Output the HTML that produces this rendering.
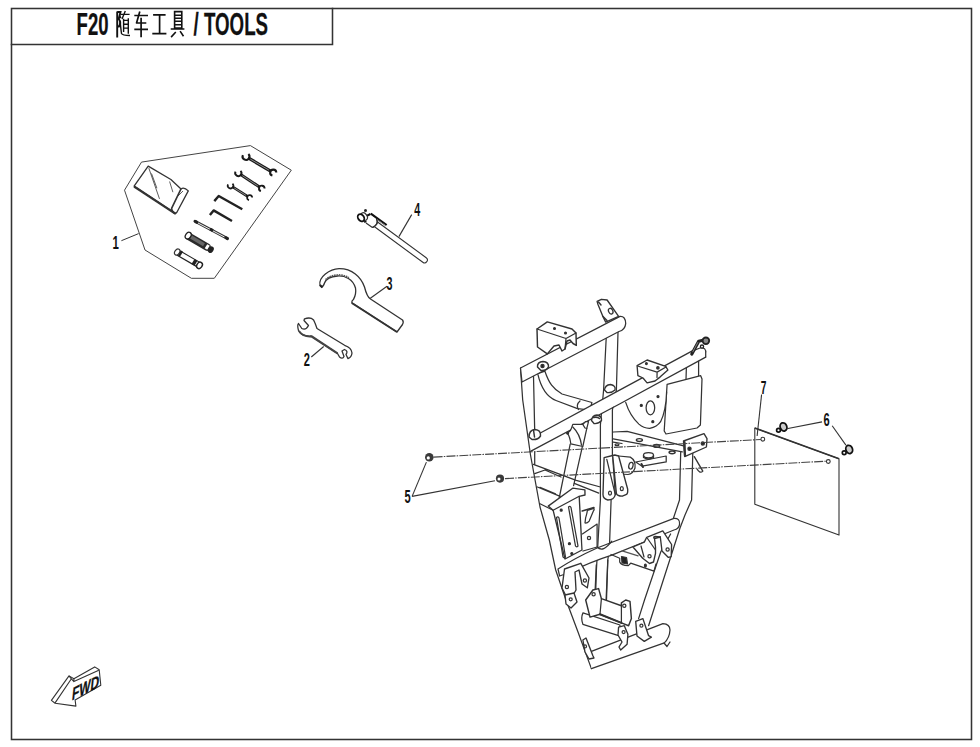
<!DOCTYPE html>
<html><head><meta charset="utf-8"><style>
html,body{margin:0;padding:0;background:#fff;width:980px;height:747px;overflow:hidden}
svg{position:absolute;left:0;top:0}
text{font-family:"Liberation Sans",sans-serif}
</style></head><body>
<svg width="980" height="747" viewBox="0 0 980 747">
<g fill="none" stroke="#333" stroke-linecap="square">
<rect x="11.5" y="8.5" width="960" height="731" stroke-width="1.55"/>
<polyline points="11.5,44.5 332.5,44.5 332.5,8.5" stroke-width="1.55"/>
</g>
<g fill="#111" stroke="#111" stroke-width="0.25">
<g transform="translate(76.6,35) scale(0.59,1)"><text x="0" y="0" font-size="31.4" font-weight="bold">F20</text></g>
<g transform="translate(193.6,35) scale(0.596,1)"><text x="0" y="0" font-size="31.4" font-weight="bold">/ TOOLS</text></g>
</g>
<g fill="none" stroke="#111" stroke-width="1.7">
<!-- 随 -->
<path d="M117.2,11.5 V37.5 M117.2,12 H120.5 L118.8,19 Q121.5,22.5 119,26.5 H118" stroke-width="1.9"/>
<path d="M120.6,14.4 H129.6 M125.3,11 L122,19 M123.6,18.7 V32 M128.3,18.3 V33.7 M123.6,20.4 H128.3 M123.6,24.3 H128.3 M123.6,28.1 H128.3 M120.2,22 Q121,30 121.5,33.5 Q122.5,35.5 130,35.5 M119.5,16 L121,18" stroke-width="1.4"/>
<!-- 车 -->
<path d="M134.3,15.5 H148 M139.8,11.4 L136.4,23.5 M136,23 H146.3 M141.1,17.8 V37.3 M134.3,29.4 H148"/>
<!-- 工 -->
<path d="M153.1,14.9 H165.6 M159.6,14.9 V33.7 M152.3,33.7 H166.4"/>
<!-- 具 -->
<path d="M174.6,11.6 H181.8 V28.1 H174.6 Z M174.6,15.3 H181.8 M174.6,18.3 H181.8 M174.6,21.3 H181.8 M174.6,24.7 H181.8 M170.7,29 H184.4 M175.8,32 L171.1,37.1 M180.1,31.1 L183.5,36.3" stroke-width="1.6"/>
</g>
<!-- tool kit -->
<g fill="none" stroke="#333" stroke-width="1" stroke-linejoin="round">
<polygon points="141.5,162.1 250.4,145.6 291.3,170.2 214.3,278.3 191.4,278.3 145,250 124.5,190.2" stroke="#444"/>
<line x1="121.4" y1="240.7" x2="138.6" y2="233.6"/>
<!-- bag -->
<path d="M148.2,166.1 L170.9,179.5 L181,188.9 Q184,186.5 188.3,190.9 L176.9,212.3 L175.6,213.6 L134.1,186.2 Z" stroke-width="1.3"/>
<path d="M134.1,186.5 L175.6,213.8" stroke-width="2.2"/>
<path d="M181,188.9 L171.6,208.3 Q172,212 175.6,213.6" stroke-width="1.6"/>
<path d="M148.8,168.1 L159.5,198.9 M151.5,173.5 L156.9,188.2 M169.6,181.5 L172.9,192.2 M178,196 L183,191" stroke-width="0.8"/>
<!-- wrenches -->
<line x1="248.6" y1="158.1" x2="270.6" y2="171.1" stroke="#1a1a1a" stroke-width="3.2"/>
<line x1="250.3" y1="159.1" x2="268.9" y2="170.1" stroke="#bbb" stroke-width="0.7"/>
<path d="M248.4,154.1 A3.4,3.4 0 1 1 242.9,155.1" stroke="#1a1a1a" stroke-width="2.1"/>
<path d="M272.4,175.6 A3.06,3.06 0 1 1 276.3,172.5" stroke="#1a1a1a" stroke-width="2.1"/>
<line x1="240.6" y1="174.5" x2="259.5" y2="187.0" stroke="#1a1a1a" stroke-width="2.9"/>
<line x1="242.3" y1="175.6" x2="257.8" y2="185.9" stroke="#bbb" stroke-width="0.7"/>
<path d="M240.5,170.8 A3.1,3.1 0 1 1 235.5,171.7" stroke="#1a1a1a" stroke-width="1.9"/>
<path d="M260.9,191.1 A2.79,2.79 0 1 1 264.6,188.4" stroke="#1a1a1a" stroke-width="1.9"/>
<line x1="232.6" y1="186.9" x2="247.6" y2="196.4" stroke="#1a1a1a" stroke-width="2.7"/>
<line x1="234.3" y1="188.0" x2="245.9" y2="195.3" stroke="#bbb" stroke-width="0.7"/>
<path d="M232.5,183.6 A2.8,2.8 0 1 1 228.0,184.4" stroke="#1a1a1a" stroke-width="1.7"/>
<path d="M249.0,200.1 A2.52,2.52 0 1 1 252.2,197.6" stroke="#1a1a1a" stroke-width="1.7"/>
<!-- hex keys -->
<polyline points="214.3,201.1 218.7,196 242.3,209.2" stroke="#222" stroke-width="2.4"/>
<polyline points="209.9,215.1 213.6,210.4 232,221" stroke="#222" stroke-width="2.4"/>
<!-- rod -->
<line x1="195.5" y1="221.6" x2="227" y2="238.3" stroke="#333" stroke-width="2.8" stroke-linecap="round"/>
<line x1="198" y1="223" x2="224.5" y2="237" stroke="#fff" stroke-width="0.9"/>
<line x1="210" y1="229" x2="213" y2="230.6" stroke="#222" stroke-width="3"/>
<line x1="195" y1="221.3" x2="196.5" y2="222.1" stroke="#222" stroke-width="3" stroke-linecap="round"/>
<line x1="226" y1="237.8" x2="227.5" y2="238.6" stroke="#222" stroke-width="3" stroke-linecap="round"/>
<!-- handle -->
<line x1="189" y1="236.5" x2="207" y2="247" stroke="#2a2a2a" stroke-width="7.4" stroke-linecap="round"/>
<line x1="191" y1="237" x2="204" y2="244.8" stroke="#666" stroke-width="3.6"/>
<ellipse cx="188.2" cy="235.6" rx="2.6" ry="3.6" transform="rotate(35 188.2 235.6)" stroke="#222" stroke-width="1.3" fill="#fff"/>
<line x1="206" y1="246.3" x2="208.5" y2="247.8" stroke="#fff" stroke-width="4.8"/>
<ellipse cx="210.8" cy="249.6" rx="2.7" ry="3.5" transform="rotate(35 210.8 249.6)" fill="#222" stroke="none"/>
<!-- socket -->
<line x1="178" y1="252.8" x2="199" y2="265" stroke="#222" stroke-width="6.4"/>
<line x1="178.5" y1="252.9" x2="198.5" y2="264.6" stroke="#fff" stroke-width="4"/>
<ellipse cx="177.2" cy="252" rx="2.3" ry="3.3" transform="rotate(35 177.2 252)" stroke="#333" stroke-width="1.2" fill="#fff"/>
<line x1="179.5" y1="253" x2="181.5" y2="254.2" stroke="#222" stroke-width="6"/>
<line x1="193" y1="261.5" x2="196" y2="263.3" stroke="#222" stroke-width="6"/>
<ellipse cx="199.5" cy="265.4" rx="2.6" ry="3.4" transform="rotate(35 199.5 265.4)" stroke="#222" stroke-width="1.4" fill="#fff"/>
</g>
<g transform="translate(112.6,248.8) scale(0.6,1)"><text font-size="19" font-weight="bold" fill="#111">1</text></g>
<g fill="none" stroke="#333" stroke-width="1.1" stroke-linejoin="round">
<!-- tool 4 -->
<line x1="373.5" y1="222.5" x2="424.5" y2="260" stroke="#333" stroke-width="6.8" stroke-linecap="round"/>
<line x1="373.5" y1="222.5" x2="424.5" y2="260" stroke="#fff" stroke-width="4.6" stroke-linecap="round"/>
<path d="M370.8,213.6 L377,218.5 Q379.5,224 372.4,227.4 L366,223" fill="#fff" stroke-width="1.2"/>
<path d="M376.5,219 Q378.5,224.5 373,227.5" stroke-width="1.2"/>
<path d="M370.4,214 Q363.5,216.5 365.5,222.6" stroke="#111" stroke-width="2.3"/>
<line x1="370.8" y1="213.6" x2="386.7" y2="225" stroke="#111" stroke-width="2"/>
<line x1="377" y1="219.5" x2="386" y2="226" stroke="#777" stroke-width="1"/>
<ellipse cx="364" cy="216.6" rx="3" ry="4" transform="rotate(-35 364 216.6)" stroke-width="1.2" fill="#fff"/>
<ellipse cx="361" cy="217.7" rx="2.9" ry="3.9" transform="rotate(-35 361 217.7)" stroke="#111" stroke-width="1.8" fill="#fff"/>
<circle cx="365.5" cy="210.5" r="1" fill="#111"/>
<line x1="398.9" y1="236.6" x2="411.7" y2="214.6"/>
<!-- tool 3 -->
<path d="M320,285.5 C 318,277 330,269 339,268.7 C 352,268.5 361,277 364.5,287 Q 367,297 370.5,299 L 402.5,320 Q 404,322 402.5,324.5 L 397,332 L 351.8,302.8 Q 351.5,301 353.4,299.6 Q 356.5,294 355.5,288 C 353,279 345,275.5 337.5,276 C 331,276.5 326,279 324.5,283 Q 323.5,286.5 321.5,287 Z" stroke-width="1.3"/>
<path d="M397,332 L351.8,303" stroke-width="2"/>
<path d="M325.5,279.5 C 331,274.5 341,273 349,277.5" stroke="#555" stroke-width="1.4" stroke-dasharray="1.6,0.8"/><path d="M320,285 L322.5,287.5" stroke="#222" stroke-width="2"/>
<line x1="370" y1="298.5" x2="387" y2="286.2"/>
<!-- tool 2 -->
<path d="M304.5,318.8 Q 313,316 315,323 L 317,328.5 L 344.6,345.3 Q 351.5,347.5 352,353 Q 351.5,357.5 348,358.6 L 346,354.5 Q 348.5,351 344.5,349.5 L 342,351 L 344,356.5 Q 342.5,359.5 339.5,357 L 337.5,353.5 L 311,336 Q 301,336.5 298.5,330.5 Q 297,325 298.5,323.5 L 301.8,328.5 Q 306,330.5 308.5,325.5 L 304,320.5 Z" stroke-width="1.3"/>
<path d="M311,336 L337.5,353.3" stroke="#444" stroke-width="2.2"/>
<path d="M299,331 Q303,337 311,336.5" stroke="#444" stroke-width="1.8"/>
<line x1="311.3" y1="357" x2="323.7" y2="346.5"/>
</g>
<g font-weight="bold" fill="#111">
<g transform="translate(414.3,216.3) scale(0.58,1)"><text font-size="18.5">4</text></g>
<g transform="translate(386.4,290.1) scale(0.58,1)"><text font-size="18.5">3</text></g>
<g transform="translate(303.8,366.3) scale(0.6,1)"><text font-size="18.5">2</text></g>
</g>
<g fill="none" stroke="#333" stroke-width="1.25" stroke-linejoin="round" stroke-linecap="round">
<!-- right frame tube (back) -->
<path d="M686.4,366 L686,380 M698.6,360 L698.6,376" />
<path d="M680.7,452 L679.5,500 L673.5,518 M692.8,452 L691.6,500 L685,515 L680,528 L648.6,625.7 M670.6,534 L660.8,551.8 L644.5,600 L638.6,618.6" fill="none"/>
<!-- vertical center tube -->
<path d="M606.4,334 L603.6,390 L600.4,425 L600.4,500 L596.4,570 L595.5,598 M618,332 L616.4,390 L612.4,410 L612.4,453.6 L611.8,480 L609.4,548.6 L607.8,560 L606.5,600" fill="#fff"/>
<!-- curved tube -->
<path d="M544.9,371.2 C 549,383 553,389 562,394 L 591.9,402.5 L 590,410 L 577.5,408.6 L 556,400.5 C 547,397 541,388 537.7,373.6 Z" fill="#fff"/>
<path d="M580,401 Q 575.5,405 578.5,409.5"/>
<!-- left frame outer & inner -->
<polyline points="520.5,368 522.7,400 530.5,455 540,507 549.3,540 555.7,570 566,600 578,632 591.4,668.6"/>
<line x1="533.5" y1="376" x2="534.7" y2="430.8"/>
<line x1="534.7" y1="452" x2="534.7" y2="464.3"/>
<!-- lower-left horizontal members -->
<path d="M533.4,464.3 L576.2,480.4 L600.4,487 M534.7,473.7 L545,470 L561,477 M537.4,487 L560.2,496.4 M540,503.7 L553.1,510.2 M540,487.3 L555.5,493.9 M574.3,483.3 L598.8,493.1" />
<!-- V tubes -->
<path d="M570.2,444.2 L558.8,500 L553,510 M582.3,446.9 L573.6,485.7"/>
<!-- top tube -->
<path d="M520.5,368 L620,316.4 Q625.5,316 625.7,323.6 Q625,330 619,331.5 L522,382 Z" fill="#fff"/>
<!-- top box bracket -->
<path d="M537,329 L547.3,321.9 L572,329 L576,333 L576.3,345.4 L573,343.5 L570,340 L567,341 L565,349 L562,351 L559,345 L554,346 L547.3,353.9 L537.5,347 Z" stroke-width="1.45" fill="#fff"/>
<path d="M537,329 L566,338.5 L576,333 M566,338.5 L565,349" />
<circle cx="554.5" cy="328.5" r="0.9" fill="#333"/><circle cx="565.5" cy="333" r="0.9" fill="#333"/>
<!-- top right tab -->
<path d="M605.7,322.1 L602.9,316.4 L597.9,304.3 L597.1,301.4 L601.4,299.3 L607.1,300 L618.6,316.4 Z" stroke-width="1.35" fill="#fff"/>
<path d="M603,316.5 L607,320.5 M598.5,302 L601,305" stroke-width="1.45"/>
<ellipse cx="610.7" cy="311.2" rx="2.1" ry="3" transform="rotate(-25 610.7 311.2)"/>
<!-- nut bosses -->
<path d="M537.5,367 Q537,362 543,361.5 Q549,362 548.5,367 Q546,371 541,370.5 Z" stroke-width="1.45" fill="#fff"/>
<circle cx="542.5" cy="366" r="1.6" fill="#222"/>
<path d="M604.5,390 Q605,385 610.5,384.5 Q616,385.5 615,390 Q612,393 607,392.5 Z" stroke-width="1.35" fill="#fff"/>
<!-- lower cross tube -->
<path d="M530,451.6 L540.8,432.8 L691.4,351.4 L700,348 Q706.5,347 705.7,353.5 L705.7,357.1 Z" fill="#fff" stroke="none"/>
<polyline points="540.8,432.8 620,389.9 691.4,351.4"/>
<polyline points="530,451.6 620,403.7 705.7,357.1"/>
<path d="M691.4,351.4 L700,348 Q706.5,347 705.7,353.5 L705.7,357.1"/>
<path d="M529,437 Q529,430 535,429.5 Q541,430 540.5,436 Q538,440 532,439.5 Z" stroke-width="1.45" fill="#fff"/>
<path d="M533.5,430 L534.5,437" stroke-width="1.5"/>
<path d="M591.5,420.5 Q592,415.5 597,415 Q602,416 601.5,420.5 Q598.5,424 594,423.5 Z" stroke-width="1.35" fill="#fff"/>
<path d="M593.5,417.5 Q597,416.5 599.5,418.5" stroke-width="1.6"/>
<!-- gusset under lower tube (in front) -->
<path d="M567.4,433.1 Q571,431 571.4,428.4 L572.8,424.4 L582.8,424.4 L585.5,421.7 L588.5,421.7 L586.8,428.4 L582.8,446.5 L570.8,443.8 Q570,437 567.4,433.1 Z" fill="#fff"/>
<path d="M572.8,427 Q580,434 581.5,445.1 M582.8,424.4 L585,428 L586.8,428.4"/>
<circle cx="567.6" cy="433" r="1" fill="#222"/>
<!-- small bracket on lower tube -->
<path d="M637.1,365.7 L647.1,360 L665.7,366.4 L667.9,370 L660,377.1 L655,381 L647.1,382.9 L643,378 L637.9,375.7 Z" stroke-width="1.35" fill="#fff"/>
<path d="M637.5,366 L657.1,372.1 L666,367 M657.1,372.1 L657,377.5"/>
<circle cx="646.4" cy="363.6" r="0.9" fill="#333"/><circle cx="657.9" cy="367.9" r="1.2" fill="#333"/>
<!-- hook at end -->
<path d="M691.8,354.1 L698.7,341.2 L703,340.3" stroke="#222" stroke-width="3.2"/>
<path d="M692.8,351.8 L697.8,342.5" stroke="#aaa" stroke-width="0.7"/>
<circle cx="705.9" cy="340.8" r="3.3" stroke="#222" stroke-width="1.8" fill="#888"/>
<circle cx="702" cy="346.6" r="1.6" fill="#fff" stroke="#222" stroke-width="1.3"/>
<!-- shield plate -->
<path d="M667.1,384.3 L700.7,375.7 L702,379 L700.4,425 L697,428 L666,434 L664.2,431 Z" fill="#fff"/>
<!-- engine mount plate -->
<path d="M625.7,402.4 Q630,416 638.9,424.1 Q644,428.5 649.8,428.3 Q657,427 660.6,421.7 Q666,411 666.6,392" fill="#fff"/>
<ellipse cx="650.4" cy="407.8" rx="4.3" ry="7"/>
<circle cx="641.3" cy="405.4" r="1" fill="#222"/><circle cx="652.8" cy="421.7" r="1" fill="#222"/><circle cx="658" cy="396.5" r="1" fill="#222"/>
<!-- channel bar -->
<path d="M613.2,432 L627.1,431.4 L683.5,445.8 M613.2,438.9 L682.3,451.8 M613.2,442.1 L622,443.5"/>
<ellipse cx="639.4" cy="440" rx="3" ry="1.4" stroke-width="1.45"/><ellipse cx="656.6" cy="445.9" rx="3" ry="1.4" stroke-width="1.5"/><ellipse cx="672.1" cy="452.3" rx="3" ry="1.4" stroke-width="1.5"/><ellipse cx="617" cy="444.8" rx="2" ry="0.9"/>
<path d="M635.7,462 L642.1,466.2 L666.2,461.9 L666.2,456 L635.7,462" fill="#fff"/>
<path d="M641.5,464 L643,467" stroke-width="2"/>
<ellipse cx="648.5" cy="455.3" rx="5" ry="2.6"/>
<path d="M643.5,455.3 L643.5,457.5 Q648.5,460.5 653.5,457.5 L653.5,455.3"/>
<!-- lower right bracket -->
<path d="M683.5,441 L704,433.7 L707,438.6 L706.4,447 L684.7,456.6 Z" stroke-width="1.35" fill="#fff"/>
<line x1="684.5" y1="442" x2="685" y2="456" stroke-width="2.2"/>
<circle cx="689.5" cy="448.8" r="1.6" fill="#222"/><circle cx="702.8" cy="443.4" r="1.6" fill="#222"/>
<path d="M694.3,456.6 L702.8,471.1 Q700,474 697,469" stroke-width="1.35"/>
<!-- tabs on vertical tube -->
<path d="M618.6,456 L630.3,457.1 Q636,460.5 635,468 Q633,474 628,474.5 L620,474" fill="#fff"/>
<ellipse cx="630.9" cy="465.7" rx="2.1" ry="3.4" transform="rotate(15 630.9 465.7)"/>
<path d="M604.1,457.7 L612.7,455.5 L615.3,494.6 Q614,500 607.8,500 Q603,499 603,494.6 Z" stroke-width="1.35" fill="#fff"/>
<path d="M606.8,459.3 L615.3,494.6" />
<path d="M614.8,455 L618.6,456 L627.7,489.2 Q628,494 626,494.6 L622.3,496.2 Q617,496 616.4,493.5 L612.7,455.5 Z" stroke-width="1.35" fill="#fff"/>
<ellipse cx="610" cy="493" rx="1.5" ry="2"/><ellipse cx="621.8" cy="488.7" rx="1.5" ry="2"/>
<!-- plate with slots -->
<path d="M548.2,506.1 L572.7,488.2 L584.9,489.8 L585,495 L579.2,496.3 L582,550 L565,559 L553.1,510.2 Z" fill="#fff" stroke-width="1.35"/>
<path d="M553.1,510.2 L579.2,496.3"/>
<path d="M556.5,517.5 Q558,516 559,518 L565.5,557 Q564,558.5 563,557 Z"/>
<path d="M568.5,507 Q570,505.5 571,507.5 L578,546 Q576.5,547.5 575.5,546 Z"/>
<circle cx="561.2" cy="510.2" r="1" fill="#222"/><circle cx="569.4" cy="543.7" r="1" fill="#222"/><circle cx="571.8" cy="553.5" r="1" fill="#222"/>
<!-- gusset right of plate -->
<path d="M582.4,533.9 L597.1,524.1 L597.1,547 L583,551" fill="#fff"/>
<circle cx="589" cy="538" r="1.6"/>
<path d="M587.4,510.3 L593.9,508.4 Q594.5,510 593.5,510.8 L589.2,521.1 Q587,523.5 585,523 Q585.5,517 586.9,513.1 Z"/><path d="M582.2,511 L593.9,507.5" stroke-width="1.6"/>
<!-- vertical tube lower lines -->
<path d="M596.3,564.9 L594.7,600 M607.8,560 L606.1,600"/>
<!-- middle cross tube -->
<path d="M558,569 Q575,558 597.1,548 L673.9,518.4 Q680,518 679.6,524.1 Q679,529 674,530 L611.8,555.1 Q590,562 568,573 L559.6,576 Z" fill="#fff"/>
<path d="M597.1,547 Q603,553 611.8,541.2" />
<!-- bar under middle tube -->
<path d="M611,554.5 L619.7,558.3 L619.7,562 Q621,565.5 628.3,565.6 L630.7,563.2 L654,571.1 L656,563.8"/>
<path d="M621.5,556.5 L626.5,557.5 L627.5,564 L622,563 Z" fill="#222"/>
<path d="M622.1,550.9 L638.1,555.8" stroke="#555"/>
<ellipse cx="645.4" cy="565.6" rx="0.9" ry="1.6" fill="#333"/>
<!-- right tab bracket -->
<path d="M646.7,537.3 L662.8,530.9 L671.6,544.5 L671.2,556.6 L668.4,557.4 L662,551 L660.3,537 L654.5,538.5 L655.5,547 L655.5,553.4 L653.5,562 L649.5,563.5 L642.7,558.2 L633,547 L644.3,542.1 Z" stroke-width="1.35" fill="#fff"/>
<path d="M654.5,538.5 Q653,537 655,536.5 L660.3,537" stroke-width="1.6"/>
<path d="M647.5,538.5 L655.5,550 M641,546 L644,557" />
<circle cx="649.5" cy="556.2" r="1.6"/><circle cx="667.6" cy="549.4" r="1.6"/>
<!-- left tab bracket on middle tube -->
<path d="M564.5,569 L580.8,563.3 L589,578 L587.3,587.8 L582,584 L579,570 L575,572 L576,590 L572,597 L566,596 L562,588 Z" stroke-width="1.35" fill="#fff"/>
<circle cx="584.9" cy="580.4" r="1.6"/><circle cx="566.9" cy="587" r="1.6"/>
<path d="M565,595 L574,593 L577,602 L571,608 L566,604 Z" stroke-width="1.35" fill="#fff"/>
<circle cx="570.7" cy="599.3" r="1.5"/>
<!-- bottom tube -->
<path d="M591.4,651.4 L662.9,623.6 Q670,624 670,630 Q669.5,638 664.3,642.9 L591.4,668.6" fill="#fff"/>
<!-- cylinder under center bracket -->
<path d="M583,612.9 Q580.5,618 582.9,624.3 L618.6,635.7 L620,625 Z" fill="#fff"/>
<!-- center bracket -->
<path d="M585.7,600 L592.9,590 L598.6,588.6 L601.4,598.6 L621.4,605.7 L621.4,602.9 L625.7,600 L630,601.4 L631.4,618.6 L628.6,625.7 L621.4,622.9 L600,614.3 L590,617.1 Z" stroke-width="1.45" fill="#fff"/>
<path d="M600,614.3 L621.4,622.9" stroke-width="2"/>
<path d="M601.4,598.6 L600,614.3 M621.4,605.7 L621.4,622.9"/>
<circle cx="593.6" cy="594.3" r="1.6"/><circle cx="624.3" cy="605.7" r="1.6"/>
<!-- front tabs on bottom tube -->
<path d="M618.6,627.1 L624.3,625.7 L627.9,634.3 L627.1,644.3 L620.7,650 L619,647 L622,642 L618,635 Z" stroke-width="1.35" fill="#fff"/>
<circle cx="623.6" cy="632.1" r="1.5"/>
<path d="M635.7,621.4 L642.9,618.6 L648.6,635.7 L651.4,637.1 L644.3,641.4 L637,636 Z" stroke-width="1.35" fill="#fff"/>
<circle cx="641.4" cy="625.7" r="1.5"/>
<path d="M582.9,640 L586,638 L592.9,655.7 L594,658 L589,659 L585,652 Z" stroke-width="1.35" fill="#fff"/>
<circle cx="585" cy="646.4" r="1.5"/>
<path d="M664,643 L667,646.5 L670,642"/>
</g>
<g fill="none" stroke="#333" stroke-width="1.1" stroke-linejoin="round">
<!-- dashed lines -->
<g stroke="#444" stroke-width="1.1" stroke-dasharray="9,1.2,1.5,1.2">
<line x1="433.6" y1="457.1" x2="760.8" y2="439.5"/>
<line x1="505" y1="478.6" x2="826" y2="461.2"/>
</g>
<!-- nuts -->
<circle cx="429.3" cy="457.3" r="4.3" fill="#3a3a3a" stroke="none"/>
<circle cx="428.3" cy="457.9" r="1.6" fill="#fff" stroke="none"/>
<circle cx="500" cy="478.6" r="4.1" fill="#3a3a3a" stroke="none"/>
<circle cx="499" cy="479.1" r="1.5" fill="#fff" stroke="none"/>
<line x1="412.1" y1="496.4" x2="426.4" y2="462.1"/>
<line x1="412.1" y1="496.4" x2="495" y2="480.7"/>
<!-- plate 7 -->
<polygon points="754.8,428.1 839,458.8 839,535.1 754.8,504.3"/>
<line x1="754.8" y1="428.1" x2="839" y2="458.8" stroke-width="1.6"/>
<circle cx="762.8" cy="439.2" r="1.9"/>
<circle cx="828.3" cy="461.5" r="1.9"/>
<line x1="761.6" y1="394.5" x2="757.1" y2="436"/>
<!-- bolts 6 -->
<ellipse cx="783.5" cy="426.9" rx="3.3" ry="4.2" transform="rotate(-20 783.5 426.9)" stroke="#111" stroke-width="1.8" fill="#ccc"/>
<circle cx="778.5" cy="430.2" r="1.9" stroke="#111" stroke-width="1.7" fill="#fff"/>
<ellipse cx="849.2" cy="449.4" rx="3.3" ry="4.2" transform="rotate(-20 849.2 449.4)" stroke="#111" stroke-width="1.8" fill="#ccc"/>
<circle cx="844.2" cy="452.7" r="1.9" stroke="#111" stroke-width="1.7" fill="#fff"/>
<line x1="786.7" y1="428.7" x2="822" y2="421.9"/>
<line x1="832.2" y1="425.8" x2="845.9" y2="445.1"/>
<!-- FWD arrow -->
<path d="M51.4,700.4 L69,675.9 L73.9,678.8 L94.7,666.9 L99.2,669.8 L100.8,685.3 L75.1,700 L75.9,706.1 L55.1,703.3 Z" stroke-width="1.1"/>
<path d="M69,675.9 L71.4,678.8 L55.1,702.9 M71.4,678.8 L73.9,681.6 L98.8,670.2 M73.9,678.8 L73.9,681.6"/>
</g>
<g font-weight="bold" fill="#111">
<g transform="translate(404.6,503) scale(0.6,1)"><text font-size="18.5">5</text></g>
<g transform="translate(760.8,394) scale(0.55,1)"><text font-size="18.5">7</text></g>
<g transform="translate(823.6,426) scale(0.6,1)"><text font-size="18.5">6</text></g>
</g>
<g transform="translate(71.5,700.8) skewY(-27) skewX(-6)"><text font-size="17.5" font-weight="bold" fill="#111" stroke="#111" stroke-width="0.3" transform="scale(0.68,1)" font-family="Liberation Serif">FWD</text></g>
</svg>
</body></html>
